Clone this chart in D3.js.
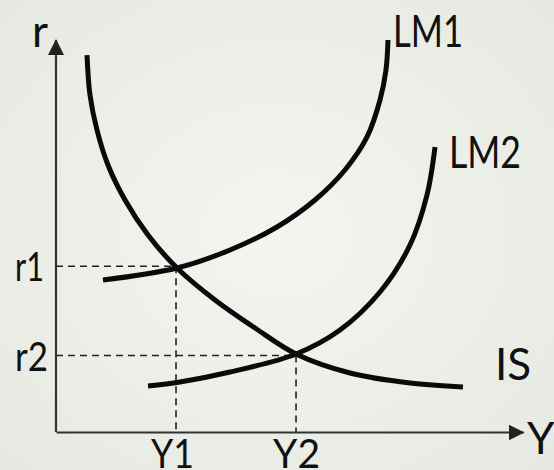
<!DOCTYPE html>
<html>
<head>
<meta charset="utf-8">
<script src="https://cdn.jsdelivr.net/npm/d3@7"></script>
<style>
  html,body{margin:0;padding:0;background:#eceee8;}
  svg{display:block;}
  text{font-family:Lato,"Open Sans",sans-serif;fill:#111;}
</style>
</head>
<body>
<svg id="chart" width="554" height="470"></svg>
<script>
// curve points, in (Y, r) units 0..10
const isCurve=[[0.664,9.617],[0.728,8.597],[0.878,7.704],[1.113,6.811],[1.478,5.918],[1.970,5.026],[2.591,4.184],[3.405,3.367],[4.261,2.653],[5.139,1.990],[6.296,1.505],[7.580,1.250],[8.715,1.148]];
const lm1Curve=[[1.006,3.878],[2.591,4.184],[3.726,4.643],[4.732,5.230],[5.546,5.918],[6.188,6.684],[6.660,7.526],[6.938,8.469],[7.066,9.235],[7.109,10.0]];
const lm2Curve=[[1.970,1.173],[2.655,1.276],[3.726,1.531],[5.139,1.990],[6.081,2.602],[6.938,3.571],[7.580,4.770],[7.944,6.046],[8.116,7.270]];
// equilibria
const yTicks=[2.57,5.14];
const yTickLabels=["Y1","Y2"];
const rTicks=[4.23,1.95];
const rTickLabels=["r1","r2"];
const curveNames=["IS","LM1","LM2"];

const svg=d3.select("#chart");
const W=554,H=470;
const x=d3.scaleLinear().domain([0,10]).range([56,523]);
const y=d3.scaleLinear().domain([0,10]).range([432,40]);

// background
const defs=svg.append("defs");
const bg=defs.append("radialGradient").attr("id","bg").attr("cx","50%").attr("cy","50%").attr("r","75%");
bg.append("stop").attr("offset","0%").attr("stop-color","#f4f5f1");
bg.append("stop").attr("offset","100%").attr("stop-color","#e5e8e0");
svg.append("rect").attr("width",W).attr("height",H).attr("fill","url(#bg)");

defs.append("marker").attr("id","arrow")
  .attr("viewBox","0 0 16 16").attr("refX",15).attr("refY",8)
  .attr("markerWidth",16).attr("markerHeight",16).attr("markerUnits","userSpaceOnUse")
  .attr("orient","auto")
  .append("path").attr("d","M0,0L16,8L0,16Z").attr("fill","#222");

// dashed guides
const guides=svg.append("g").attr("stroke","#222").attr("stroke-width",1.6).attr("stroke-dasharray","7,5");
yTicks.forEach((t,i)=>{
  guides.append("line").attr("x1",x(0)).attr("x2",x(t)).attr("y1",y(rTicks[i])).attr("y2",y(rTicks[i]));
  guides.append("line").attr("x1",x(t)).attr("x2",x(t)).attr("y1",y(rTicks[i])).attr("y2",y(0));
});

// axes
const xAxis=svg.append("g").attr("transform",`translate(0,${y(0)})`)
  .call(d3.axisBottom(x).tickValues(yTicks).tickFormat((d,i)=>yTickLabels[i]).tickSize(0).tickPadding(36));
const yAxis=svg.append("g").attr("transform",`translate(${x(0)},0)`)
  .call(d3.axisLeft(y).tickValues(rTicks).tickFormat((d,i)=>rTickLabels[i]).tickSize(0));
[xAxis,yAxis].forEach(a=>{
  a.select(".domain").attr("stroke","#333").attr("stroke-width",2.2).attr("marker-end","url(#arrow)");
  a.selectAll("text").attr("font-size",41).attr("fill","#111").attr("font-family","Lato,'Open Sans',sans-serif");
});
yAxis.select(".domain").attr("d",`M0,${y(0)}V${y(10)}`);
yAxis.selectAll("text").attr("dy","0.36em").attr("text-anchor","start").attr("x",15-x(0))
  .attr("textLength",(d,i)=>[29,33][i]).attr("lengthAdjust","spacingAndGlyphs");
xAxis.selectAll("text").attr("dy",0).attr("dx",(d,i)=>[-4,0][i])
  .attr("textLength",(d,i)=>[43,47][i]).attr("lengthAdjust","spacingAndGlyphs");

// curves
const line=d3.line().x(d=>x(d[0])).y(d=>y(d[1])).curve(d3.curveCatmullRom.alpha(0.5));
svg.append("g").attr("fill","none").attr("stroke","#0a0a0a").attr("stroke-width",5)
  .selectAll("path").data([isCurve,lm1Curve,lm2Curve]).join("path").attr("d",line);

// labels
const lab=svg.append("g").attr("font-size",44);
lab.append("text").attr("x",32).attr("y",47).text("r");
lab.append("text").attr("x",527).attr("y",454).text("Y");
lab.append("text").attr("x",495).attr("y",380).text(curveNames[0]);
lab.append("text").attr("x",x(lm1Curve[lm1Curve.length-1][0])+5).attr("y",47)
  .attr("textLength",70).attr("lengthAdjust","spacingAndGlyphs").text(curveNames[1]);
lab.append("text").attr("x",x(lm2Curve[lm2Curve.length-1][0])+14).attr("y",168)
  .attr("textLength",72).attr("lengthAdjust","spacingAndGlyphs").text(curveNames[2]);
</script>
</body>
</html>
